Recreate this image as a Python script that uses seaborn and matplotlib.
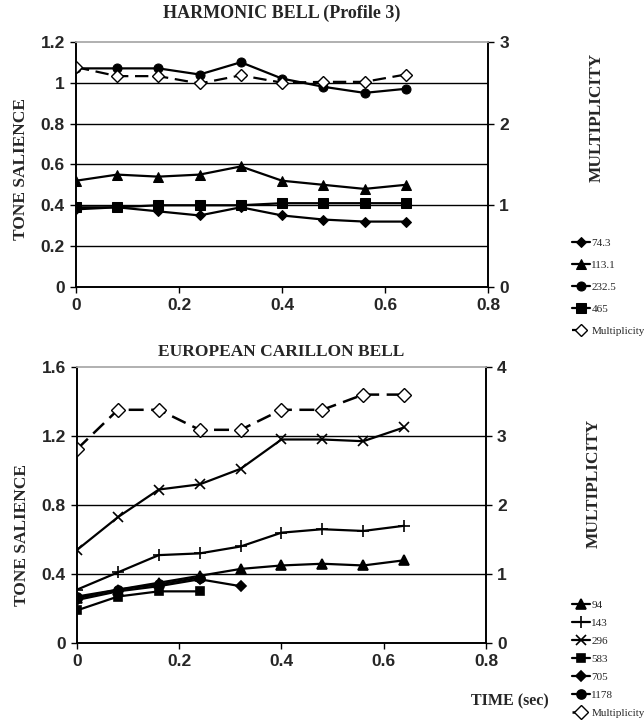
import numpy as np
import pandas as pd
import matplotlib
matplotlib.use("Agg")
import matplotlib.pyplot as plt
import seaborn as sns

sns.set_style("white")

# ---------------- data ----------------
time_top = [0, 0.08, 0.16, 0.24, 0.32, 0.40, 0.48, 0.56, 0.64]
s_74_3 = [0.38, 0.39, 0.37, 0.35, 0.39, 0.35, 0.33, 0.32, 0.32]
s_113_1 = [0.52, 0.55, 0.54, 0.55, 0.59, 0.52, 0.50, 0.48, 0.50]
s_232_5 = [1.07, 1.07, 1.07, 1.04, 1.10, 1.02, 0.98, 0.95, 0.97]
s_465 = [0.39, 0.39, 0.40, 0.40, 0.40, 0.41, 0.41, 0.41, 0.41]
mult_top = [2.69, 2.58, 2.58, 2.49, 2.59, 2.50, 2.51, 2.51, 2.60]

time_bot = [0, 0.08, 0.16, 0.24, 0.32, 0.40, 0.48, 0.56, 0.64]
s_94 = [0.26, 0.31, 0.35, 0.39, 0.43, 0.45, 0.46, 0.45, 0.48]
s_143 = [0.31, 0.41, 0.51, 0.52, 0.56, 0.64, 0.66, 0.65, 0.68]
s_296 = [0.54, 0.73, 0.89, 0.92, 1.01, 1.18, 1.18, 1.17, 1.25]
s_583 = [0.19, 0.27, 0.30, 0.30]
s_705 = [0.25, 0.30, 0.33, 0.37, 0.33]
s_1178 = [0.27, 0.31, 0.34, 0.38]
mult_bot = [2.81, 3.38, 3.38, 3.09, 3.09, 3.38, 3.38, 3.60, 3.60]

top_labels = ["74.3", "113.1", "232.5", "465"]
bot_labels = ["94", "143", "296", "583", "705", "1178"]

serif = "Liberation Serif"
sans = "Liberation Sans"

fig = plt.figure(figsize=(6.44, 7.21), dpi=100)

def style_axes(ax, ax2, ymax, ystep, y2max, ly, ry):
    ax.set_xlim(0, 0.8)
    ax.set_ylim(0, ymax)
    ax2.set_ylim(0, y2max)
    ax.set_xticks(np.arange(0, 0.81, 0.2))
    ax.set_xticklabels(["0", "0.2", "0.4", "0.6", "0.8"])
    yt = np.round(np.arange(0, ymax + 1e-9, ystep), 2)
    ax.set_yticks(yt)
    ax.set_yticklabels([("%g" % v) for v in yt])
    ax2.set_yticks(range(0, int(y2max) + 1))
    for a in (ax, ax2):
        for lab in a.get_xticklabels() + a.get_yticklabels():
            lab.set_fontfamily(sans)
            lab.set_fontweight("bold")
            lab.set_fontsize(12.5)
        a.tick_params(direction="out", length=4, width=1, color="black", pad=4)
    ax.tick_params(axis="y", which="both", left=True, right=False)
    ax2.tick_params(axis="y", which="both", right=True, left=False)
    ax.tick_params(axis="x", bottom=True)
    for yv in yt[1:-1]:
        ax.axhline(yv, color="black", lw=1.0, zorder=0)
    for a in (ax, ax2):
        a.spines["left"].set_color("black")
        a.spines["bottom"].set_color("black")
        a.spines["right"].set_color("black")
        a.spines["top"].set_color("#b0b0b0")
        for s in a.spines.values():
            s.set_linewidth(1.2)
    ax.set_xlabel("")
    ax2.set_xlabel("")
    ax.set_ylabel("TONE SALIENCE", fontfamily=serif, fontweight="bold", fontsize=12.5)
    ax.yaxis.set_label_coords(-0.115, ly)
    ax2.set_ylabel("MULTIPLICITY", fontfamily=serif, fontweight="bold", fontsize=12.5)
    ax2.yaxis.set_label_coords(1.245, ry)

# ---------------- top chart ----------------
ax = fig.add_axes([0.118, 0.602, 0.640, 0.340])
ax2 = ax.twinx()
top_series = [s_74_3, s_113_1, s_232_5, s_465]
top_markers = ["D", "^", "o", "s"]
top_ms = [5, 6.5, 6.5, 6.5]
for vals, lab, m, ms in zip(top_series, top_labels, top_markers, top_ms):
    sns.lineplot(x=time_top[:len(vals)], y=vals, ax=ax, color="black", lw=1.6,
                 marker=m, markersize=ms, markeredgecolor="black", label=lab, legend=False)
sns.lineplot(x=time_top, y=mult_top, ax=ax2, color="black", lw=1.6,
             linestyle=(0, (6, 3)), marker="D", markersize=6, markerfacecolor="white",
             markeredgecolor="black", markeredgewidth=1, label="Multiplicity", legend=False)
style_axes(ax, ax2, 1.2, 0.2, 3, 0.48, 0.69)
ax.set_title("HARMONIC BELL (Profile 3)", fontfamily=serif, fontweight="bold", fontsize=13, pad=17)
h1, l1 = ax.get_legend_handles_labels()
h2, l2 = ax2.get_legend_handles_labels()
fig.legend(h1 + h2, l1 + l2, loc="upper left", bbox_to_anchor=(0.888, 0.670),
           frameon=False, handlelength=1.6, handletextpad=0.15, labelspacing=1.1,
           prop={"family": serif, "size": 8}, borderaxespad=0, borderpad=0)

# ---------------- bottom chart ----------------
bx = fig.add_axes([0.1196, 0.108, 0.635, 0.383])
bx2 = bx.twinx()
bot_series = [s_94, s_143, s_296, s_583, s_705, s_1178]
bot_markers = ["^", "+", "x", "s", "D", "o"]
bot_ms = [6.5, 8, 7, 6, 5, 6.5]
for vals, lab, m, ms in zip(bot_series, bot_labels, bot_markers, bot_ms):
    sns.lineplot(x=time_bot[:len(vals)], y=vals, ax=bx, color="black", lw=1.6,
                 marker=m, markersize=ms, markeredgecolor="black", markeredgewidth=1.2,
                 label=lab, legend=False)
sns.lineplot(x=time_bot, y=mult_bot, ax=bx2, color="black", lw=1.8,
             linestyle=(0, (6, 3)), marker="D", markersize=7, markerfacecolor="white",
             markeredgecolor="black", markeredgewidth=1, label="Multiplicity", legend=False)
style_axes(bx, bx2, 1.6, 0.4, 4, 0.39, 0.58)
bx.set_title("EUROPEAN CARILLON BELL", fontfamily=serif, fontweight="bold", fontsize=12.5, pad=8)
h1, l1 = bx.get_legend_handles_labels()
h2, l2 = bx2.get_legend_handles_labels()
fig.legend(h1 + h2, l1 + l2, loc="upper left", bbox_to_anchor=(0.888, 0.168),
           frameon=False, handlelength=1.6, handletextpad=0.15, labelspacing=0.75,
           prop={"family": serif, "size": 8}, borderaxespad=0, borderpad=0)
fig.text(0.792, 0.027, "TIME (sec)", fontfamily=serif, fontweight="bold", fontsize=11.5,
         ha="center", va="center")

fig.savefig("out.png", dpi=100)
